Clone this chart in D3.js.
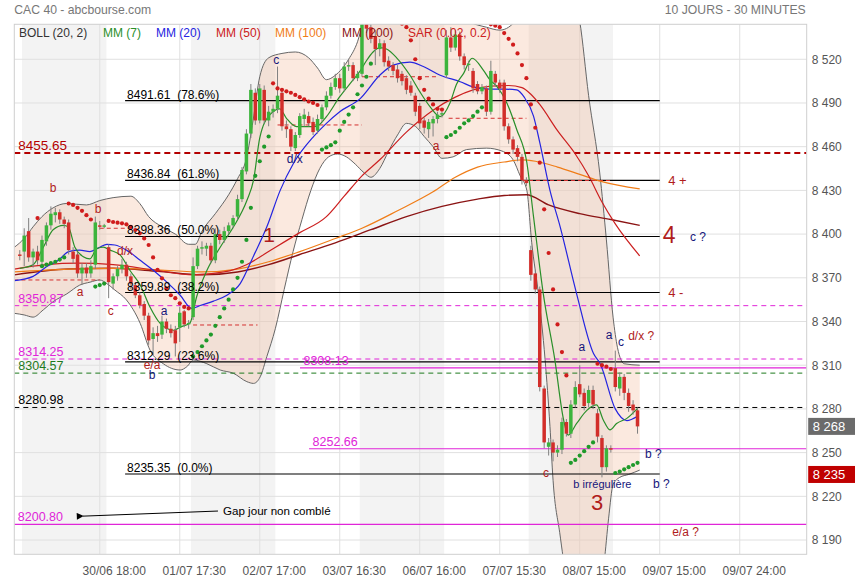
<!DOCTYPE html>
<html>
<head>
<meta charset="utf-8">
<script src="https://d3js.org/d3.v7.min.js"></script>
<style>
body { margin: 0; background: #fff; }
svg { display: block; font-family: "Liberation Sans", Arial, sans-serif; }
</style>
</head>
<body>
<script>
// ---- data (bar index 0 = 30/06 first 30-min bar, -1 = previous session last bar) ----
var firstBar = -1;
var opens = [8386,8388,8402,8384,8388,8381,8395,8406,8413,8415,8410,8408,8388,8386,8373,8377,8373,8379,8406,8405,
  8391,8366,8371,8376,8379,8371,8365,8358,8352,8344,8328,8332,8331,8340,8335,8334,8336,8347,8338,
  8343,8378,8390,8390,8392,8382,8400,8396,8402,8406,8412,8424,8443,8469,8497,8478,8499,8478,8484,
  8486,8497,8474,8472,8459,8468,8479,8481,8477,8471,8479,8487,8495,8501,8507,8500,8515,8516,8507,
  8510,8547,8542,8536,8527,8531,8519,8516,8513,8510,8507,8502,8495,8488,8478,8472,8476,8479,8482,
  8509,8535,8528,8537,8522,8516,8512,8503,8498,8500,8484,8510,8504,8504,8474,8465,8459,8453,8437,
  8389,8373,8362,8294,8254,8257,8250,8252,8271,8263,8283,8297,8291,8284,8293,8277,8260,8240,8253,
  8308,8294,8302,8291,8283,8279];
var highs = [8389,8404,8411,8390,8392,8399,8408,8419,8418,8417,8412,8410,8391,8388,8380,8380,8382,8412,8409,8407,
  8393,8373,8378,8383,8381,8373,8367,8360,8354,8346,8336,8337,8344,8342,8338,8337,8350,8348,8341,
  8384,8392,8395,8394,8394,8404,8403,8405,8408,8413,8427,8446,8472,8503,8500,8503,8502,8488,8489,
  8515,8499,8478,8474,8470,8483,8486,8484,8480,8482,8489,8498,8504,8510,8510,8518,8520,8518,8512,
  8552,8551,8545,8540,8534,8533,8522,8518,8516,8512,8509,8505,8497,8490,8480,8479,8481,8484,8484,
  8540,8542,8540,8539,8524,8519,8514,8505,8503,8502,8519,8512,8506,8506,8476,8467,8461,8455,8439,
  8392,8375,8364,8296,8260,8259,8255,8274,8273,8286,8299,8310,8294,8296,8296,8280,8262,8255,8255,
  8320,8305,8304,8294,8286,8281];
var lows = [8382,8378,8381,8377,8379,8378,8392,8403,8408,8407,8404,8386,8380,8370,8365,8370,8370,8376,8403,8404,
  8356,8362,8368,8373,8368,8362,8356,8349,8341,8324,8317,8326,8328,8332,8329,8316,8326,8336,8335,
  8341,8376,8386,8385,8380,8380,8393,8394,8400,8404,8410,8422,8441,8466,8475,8476,8476,8474,8480,
  8483,8471,8466,8457,8457,8466,8474,8474,8468,8469,8477,8485,8493,8499,8497,8498,8512,8505,8505,
  8508,8538,8531,8516,8522,8515,8512,8509,8504,8502,8496,8495,8481,8472,8469,8466,8467,8476,8480,
  8507,8525,8526,8519,8513,8512,8497,8496,8496,8481,8482,8501,8497,8471,8462,8455,8450,8434,8433,
  8368,8359,8292,8253,8248,8244,8247,8249,8261,8260,8281,8288,8279,8281,8280,8257,8233,8237,8250,
  8292,8289,8286,8278,8276,8263];
var closes = [8385,8399,8384,8388,8382,8396,8406,8414,8415,8410,8407,8389,8383,8373,8377,8373,8378,8408,8405,8406,
  8367,8371,8376,8379,8371,8366,8358,8351,8344,8327,8332,8330,8340,8335,8332,8325,8346,8338,8339,
  8378,8390,8391,8392,8382,8400,8396,8402,8406,8411,8424,8444,8469,8499,8478,8500,8478,8484,8486,
  8495,8474,8472,8460,8468,8481,8482,8476,8470,8479,8487,8495,8501,8507,8500,8515,8516,8507,8510,
  8548,8541,8534,8527,8531,8518,8515,8512,8507,8505,8499,8497,8484,8476,8473,8477,8479,8482,8483,
  8535,8528,8537,8522,8516,8517,8500,8498,8501,8484,8512,8504,8500,8474,8465,8458,8453,8437,8435,
  8372,8362,8295,8257,8257,8250,8252,8271,8263,8283,8295,8290,8282,8293,8283,8261,8240,8253,8252,
  8295,8302,8291,8282,8279,8268];

// indicators: [bar index, value]
var bollUpper = [[-2.2,8391],[0,8397],[2,8405],[4,8412],[6.5,8418],[9.5,8421],[14,8420],[17,8423],[20,8425],[24,8426],
  [26,8421],[28,8412],[31,8405],[34,8400],[37,8393],[38.5,8393],[40,8402],[43,8414],[46,8427],[48,8438],[50,8452],
  [51.5,8478],[53,8508],[55,8521],[58,8524],[61,8525],[64,8521],[66,8514],[68,8506],[70,8509],[73,8520],[75,8532],
  [76.5,8548],[80,8566],[88,8570],[96,8556],[100,8546],[104,8542],[107,8540],[109,8542],[111,8548],[115,8568],
  [120,8574],[123.5,8565],[125,8546],[127,8495],[129.5,8442],[131,8396],[132.5,8343],[133.5,8322],[135,8311],[138.5,8310]];
var bollLower = [[-2.2,8345.6],[0,8344.5],[2,8343],[4.3,8348],[6.5,8353.6],[9.6,8359],[12.5,8365],[14.8,8367],[17,8368.5],
  [18.6,8366],[20.4,8361.6],[23,8354.8],[26.1,8338.7],[28.3,8320.4],[31.3,8311],[33.2,8307.8],[35.1,8306.7],[36.6,8309],
  [38.1,8313.6],[41.1,8311],[44.1,8306.7],[47.1,8304.4],[50.1,8298.7],[51.6,8297.5],[53.1,8302],[54.6,8316],[56.5,8335],
  [58.5,8362],[60.5,8388],[62.5,8410],[64.5,8430],[66.5,8445],[68.5,8453],[70.5,8455],[72.5,8453],[74.5,8448],
  [76.5,8442],[78,8439],[80,8445],[82,8457],[84,8468],[86,8476],[88,8474],[90,8467],[92,8460],[94,8452],[96.5,8453],
  [99.5,8458],[104,8459],[107.5,8457],[110,8451],[111.6,8440],[113.1,8430],[114.2,8394],[115.7,8359],[117.2,8314],
  [118.3,8268],[119,8231],[120.5,8195],[122,8165],[126,8140],[129,8150],[130.5,8175],[131.5,8205],[132.5,8228],
  [134,8233],[136,8235],[138.5,8238]];
var mm7 = [[-1,8376.5],[2,8379],[4.3,8391],[6.5,8403],[8.8,8406],[9.9,8405],[11.4,8391],[13.3,8384.5],[14.8,8383],
  [16.3,8390],[17.8,8391],[19.3,8389],[21.6,8385.6],[23.8,8375],[26.1,8365],[28.3,8350],[30.6,8338.7],[33.6,8334],
  [35.4,8336.5],[37.3,8339],[38.8,8357],[41.1,8375],[44.1,8391],[47.1,8405],[50.1,8423],[51.6,8437],[53,8466],
  [55.3,8482],[57.5,8486],[59,8479.5],[61.3,8473.7],[63.6,8473.7],[65.8,8474],[68,8480.6],[71,8494.3],[74,8505.8],
  [75.6,8512],[77,8519],[78.5,8525],[80,8528],[81.5,8527],[83.8,8521],[86.8,8509],[89,8497.8],[91.3,8487.5],
  [93.6,8480.6],[95.8,8490],[97.3,8503],[98.8,8510],[100.8,8520.7],[103.3,8512.6],[104.8,8505.8],[106.3,8501.5],
  [108.6,8490],[110.8,8472],[113.1,8449],[114.6,8412],[116.8,8359],[119.4,8313.6],[121.3,8273.5],[122.4,8262],
  [124.3,8270],[126.6,8279],[128.8,8282.7],[130.3,8272.4],[131.8,8265.6],[133.3,8270],[135.6,8273.5],[138,8280.4]];
var mm20 = [[-2.2,8368],[2,8371],[5,8377.6],[7.7,8382],[10,8388],[12.5,8389],[14.8,8388],[17,8391],[18.6,8393],
  [20.4,8392.5],[23,8389],[26.1,8382],[29.1,8375],[32.1,8367],[35.1,8358],[37.7,8349],[39.6,8351],[42.6,8354],
  [45.6,8358],[48.6,8366],[51.6,8385],[54.6,8405],[57.6,8430],[60.6,8448.6],[65.1,8466.9],[68,8476],[71,8484],
  [75.6,8493],[80,8509],[83,8516],[86.8,8518],[89.8,8515],[93.6,8509],[98.1,8504.6],[101,8501],[104.8,8499.5],
  [108,8499.5],[110.8,8499],[112.5,8494],[114.6,8481],[116,8463],[118.3,8430],[120.6,8405],[124.3,8359],
  [128.1,8318],[129.6,8311],[133,8280],[135.6,8272],[138,8275]];
var mm50 = [[-2.2,8376],[5,8379],[12,8380],[20,8379],[30,8375],[38,8372],[45,8374],[50,8379],[56,8390],[62,8401],
  [68,8412],[72,8426],[76,8440],[80,8451],[86,8470],[92,8485],[97,8494],[101,8499],[105,8501.5],[109,8502],
  [112,8500.5],[114,8496],[116,8489],[120,8471],[124,8455],[127,8440],[130,8422],[133,8407],[138.5,8385]];
var mm100 = [[-2.2,8374],[10,8376],[20,8376.5],[30,8375.5],[40,8374],[48,8376],[55,8381],[62,8388],[70,8397],
  [76,8404],[84,8416],[92,8429],[97,8439],[102,8446],[108,8449.5],[112,8451],[115,8450],[120,8446],[125,8441],
  [130,8436],[138.5,8431]];
var mm200 = [[-2.2,8372],[10,8376],[20,8376.5],[30,8374.5],[40,8372],[48,8374],[55,8379],[62,8386],[70,8394],
  [78,8403],[86,8412],[94,8419],[102,8424],[108,8426.5],[113,8427],[118,8420],[125,8414],[132,8410],[138.5,8406]];
var sarRed = [[3,8411],[10,8421],[11,8420],[12,8418],[13,8416],[14,8413],[15,8410],
  [19,8409],[20,8408.3],[21,8407.8],[22,8407.4],[23,8406.7],[24,8405],[25,8402.8],[26,8400.5],[27,8397],[28,8392.5],
  [29,8384],[30,8375.4],[31,8369.6],[32,8362.8],[33,8358],[34,8356],[35,8352.5],[36,8350],[37,8349],
  [56,8503.5],[57,8500],[58,8499],[59,8498],[60,8497],[61,8495.5],[62,8494],[63,8492.5],[64,8491],[65,8490],[66,8488.6],
  [79,8552],[80,8551],[81,8550],[82,8549],[83,8548],[84,8546],[85,8544.5],[86,8542],[87,8533],[88,8520],[89,8507],
  [90,8499],[91,8493],[92,8489],[93,8486],[94,8485.5],
  [104,8545.5],[105,8544],[106,8543],[107,8542],[108,8538],[109,8534],[110,8530],[111,8524],[112,8516],[113,8507],
  [114,8489],[115,8473],[116,8449],[117,8417],[118,8387],[119,8362],[120,8338],[121,8319],[122,8303],
  [129,8311],[130,8310],[131,8309],[132,8307.4]];
var sarGreen = [[4,8378],[5,8379],[6,8380],[7,8381],[8,8382.5],[9,8384],[16,8364],[17,8365],[18,8366],
  [38,8316],[39,8319],[40,8323],[41,8327],[42,8331],[43,8337],[44,8343],[45,8349],[46,8355],[47,8362],[48,8370],
  [49,8381],[50,8396],[51,8418],[52,8440],[53,8450],[54,8460],[55,8467],
  [67,8458],[68,8459.5],[69,8461],[70,8463],[71,8471],[72,8477],[73,8482],[74,8487],[75,8496],[76,8502],[77,8508],[78,8517],
  [95,8466.5],[96,8468],[97,8470],[98,8473],[99,8476],[100,8478],[101,8481],[102,8484],[103,8487],
  [123,8243],[124,8245],[125,8248],[126,8251],[127,8254],[128,8257],
  [133,8236],[134,8237],[135,8238.5],[136,8240],[137,8241.5],[138,8243]];
// short red dashed lines: [from bar, to bar, value]
var redDashes = [[-2.2,17,8368.5],[17,24,8404],[38,52.5,8337.6],[57,76,8474.9],[76,93,8508],[95.5,113,8479.5],[112,132,8436.8]];

var fibValues = [8491.61, 8436.84, 8398.36, 8359.89, 8312.29, 8235.35];
var fibPct = ["78.6%", "61.8%", "50.0%", "38.2%", "23.6%", "0.0%"];
var fibFrom = 22.7, fibTo = 143;
var dashedLevels = [8455.65, 8350.87, 8314.25, 8304.57, 8280.98];
var dashedKinds = ["gap", "magenta", "magenta", "green", "black"];
var solidLevels = [8308.13, 8252.66, 8200.80];
var solidFrom = [62.05, 64.1, -2.23];

var shadedDays = [0, 38, 76, 114];
var barsPerDay = 19;
var yTicks = [8190, 8220, 8250, 8280, 8310, 8340, 8370, 8400, 8430, 8460, 8490, 8520];
var xTickIdx = [17, 35, 53, 71, 89, 107, 125, 143, 161];
var xTickLabels = ["30/06 18:00", "01/07 17:30", "02/07 17:00", "03/07 16:30", "06/07 16:00",
  "07/07 15:30", "08/07 15:00", "09/07 15:00", "09/07 24:00"];
var lastPrice = 8268, sarPrice = 8235;

var legendNames = ["BOLL (20, 2)", "MM (7)", "MM (20)", "MM (50)", "MM (100)", "MM (200)", "SAR (0.02, 0.2)"];

// wave labels: [bar, value, text, colour, size, anchor]
var waveLabels = [
  [6.5,8429,"b","r",12,"middle"],[16.6,8414.5,"b","r",12,"middle"],[22.7,8385.6,"d/x","r",12,"middle"],
  [12.55,8357.5,"a","r",12,"middle"],[19.5,8344.5,"c","r",12,"middle"],[31.45,8344.5,"a","n",12,"middle"],
  [28.75,8307.5,"e/a","r",12,"middle"],[28.75,8300.5,"b","n",12,"middle"],[56.7,8516.7,"c","n",12,"middle"],
  [60.9,8448.5,"d/x","n",12,"middle"],[55.1,8394.6,"1","r",21,"middle"],[92.7,8457.7,"a","r",12,"middle"],
  [117.4,8233,"c","r",12,"middle"],[125.5,8319.5,"a","n",12,"middle"],[131.6,8328,"a","n",12,"middle"],
  [134.3,8323,"c","n",12,"middle"],[135.9,8327.3,"d/x ?","r",12,"start"],[130.1,8226,"b irrégulière","n",11,"middle"],
  [128.9,8210.5,"3","r",22,"middle"],[139.7,8246,"b ?","n",12,"start"],[141.5,8226,"b ?","n",12,"start"],
  [145.8,8192.7,"e/a ?","r",12,"start"],[144.9,8433.7,"4 +","r",13,"start"],[143.7,8394,"4","r",23,"start"],
  [149.8,8395,"c ?","n",12,"start"],[144.9,8357,"4 -","r",13,"start"]];
var gapNote = "Gap jour non comblé";
var gapArrow = [[43.6, 8209.9], [11.9, 8206.4]];

// ---- layout ----
var w = 855, h = 580;
var plot = { left: 14.3, right: 806.7, top: 24.3, bottom: 554.3 };

var x = d3.scaleLinear().domain([-2.23, 176.07]).range([plot.left, plot.right]);
var y = d3.scaleLinear().domain([8180.2, 8544.0]).range([plot.bottom, plot.top]);
var barW = 3.5;

var colors = {
  r: "#b01c1c", n: "#15157a",
  up: "#3cb43c", down: "#d22e2a",
  mm7: "#2a8f2a", mm20: "#2424e0", mm50: "#cc2020", mm100: "#f07d18", mm200: "#8b1414",
  magenta: "#e025d8", gap: "#b40000", green: "#1d7a1d", black: "#000"
};

var svg = d3.select("body").append("svg")
    .attr("width", w)
    .attr("height", h);

svg.append("defs").append("clipPath").attr("id", "clip")
  .append("rect")
  .attr("x", plot.left).attr("y", plot.top)
  .attr("width", plot.right - plot.left).attr("height", plot.bottom - plot.top);

svg.append("defs").append("marker")
  .attr("id", "arrow").attr("viewBox", "0 0 10 10")
  .attr("refX", 1).attr("refY", 5)
  .attr("markerWidth", 9).attr("markerHeight", 7)
  .attr("orient", "auto-start-reverse")
  .append("path").attr("d", "M10,0 L0,5 L10,10 z").attr("fill", "#000");

var chart = svg.append("g").attr("clip-path", "url(#clip)");

// day bands
chart.selectAll(".day")
  .data(shadedDays)
  .enter().append("rect")
  .attr("x", function(d) { return x(d - 0.5); })
  .attr("width", function(d) { return x(d + barsPerDay - 0.5) - x(d - 0.5); })
  .attr("y", plot.top)
  .attr("height", plot.bottom - plot.top)
  .attr("fill", "#f3f3f3");

// grid
chart.selectAll(".hgrid")
  .data(yTicks)
  .enter().append("line")
  .attr("x1", plot.left).attr("x2", plot.right)
  .attr("y1", function(d) { return y(d); })
  .attr("y2", function(d) { return y(d); })
  .attr("stroke", "#e0e0e0");

chart.selectAll(".vgrid")
  .data(xTickIdx)
  .enter().append("line")
  .attr("x1", function(d) { return x(d); })
  .attr("x2", function(d) { return x(d); })
  .attr("y1", plot.top).attr("y2", plot.bottom)
  .attr("stroke", "#e0e0e0");

// bollinger
var curve = d3.curveMonotoneX;
var upLine = d3.line().x(function(d) { return x(d[0]); }).y(function(d) { return y(d[1]); }).curve(curve);

// fill with a closed path: upper forward, lower backward
var upperPath = upLine(bollUpper);
var lowerPath = upLine(bollLower.slice().reverse());
chart.append("path")
  .attr("d", upperPath + "L" + lowerPath.slice(1) + "Z")
  .attr("fill", "#f2b594")
  .attr("fill-opacity", 0.3);

[bollUpper, bollLower].forEach(function(s) {
  chart.append("path")
    .attr("d", upLine(s))
    .attr("fill", "none")
    .attr("stroke", "#666")
    .attr("stroke-width", 1);
});

// horizontal levels
chart.selectAll(".dlev")
  .data(dashedLevels)
  .enter().append("line")
  .attr("x1", plot.left).attr("x2", plot.right)
  .attr("y1", function(d) { return y(d); })
  .attr("y2", function(d) { return y(d); })
  .attr("stroke", function(d, i) { return colors[dashedKinds[i]]; })
  .attr("stroke-width", function(d, i) { return dashedKinds[i] == "gap" ? 2.2 : 1; })
  .attr("stroke-dasharray", function(d, i) { return dashedKinds[i] == "gap" ? "6,4" : "5,4"; });

chart.selectAll(".slev")
  .data(solidLevels)
  .enter().append("line")
  .attr("x1", function(d, i) { return x(solidFrom[i]); })
  .attr("x2", plot.right)
  .attr("y1", function(d) { return y(d); })
  .attr("y2", function(d) { return y(d); })
  .attr("stroke", colors.magenta)
  .attr("stroke-width", 1.2);

chart.selectAll(".fib")
  .data(fibValues)
  .enter().append("line")
  .attr("x1", x(fibFrom)).attr("x2", x(fibTo))
  .attr("y1", function(d) { return y(d); })
  .attr("y2", function(d) { return y(d); })
  .attr("stroke", "#000")
  .attr("stroke-width", 1.1);

chart.selectAll(".rdash")
  .data(redDashes)
  .enter().append("line")
  .attr("x1", function(d) { return x(d[0]); })
  .attr("x2", function(d) { return x(d[1]); })
  .attr("y1", function(d) { return y(d[2]); })
  .attr("y2", function(d) { return y(d[2]); })
  .attr("stroke", "#d43030")
  .attr("stroke-dasharray", "4,3");

// moving averages
[[mm200, colors.mm200, 1.4], [mm100, colors.mm100, 1.2], [mm50, colors.mm50, 1.2],
 [mm20, colors.mm20, 1.2], [mm7, colors.mm7, 1.2]].forEach(function(s) {
  chart.append("path")
    .attr("d", upLine(s[0]))
    .attr("fill", "none")
    .attr("stroke", s[1])
    .attr("stroke-width", s[2]);
});

// candles
var bars = closes.map(function(c, k) {
  return { i: firstBar + k, o: opens[k], h: highs[k], l: lows[k], c: c };
});

var candle = chart.selectAll(".candle")
  .data(bars)
  .enter().append("g")
  .attr("class", "candle");

candle.append("line")
  .attr("x1", function(d) { return x(d.i); })
  .attr("x2", function(d) { return x(d.i); })
  .attr("y1", function(d) { return y(d.h); })
  .attr("y2", function(d) { return y(d.l); })
  .attr("stroke", "#808080");

candle.append("rect")
  .attr("x", function(d) { return x(d.i) - barW / 2; })
  .attr("width", barW)
  .attr("y", function(d) { return y(Math.max(d.o, d.c)); })
  .attr("height", function(d) { return Math.max(1, Math.abs(y(d.o) - y(d.c))); })
  .attr("fill", function(d) { return d.c >= d.o ? colors.up : colors.down; });

// SAR
chart.selectAll(".sarR")
  .data(sarRed)
  .enter().append("circle")
  .attr("cx", function(d) { return x(d[0]); })
  .attr("cy", function(d) { return y(d[1]); })
  .attr("r", 2.1)
  .attr("fill", "#d01c1c");

chart.selectAll(".sarG")
  .data(sarGreen)
  .enter().append("circle")
  .attr("cx", function(d) { return x(d[0]); })
  .attr("cy", function(d) { return y(d[1]); })
  .attr("r", 2.1)
  .attr("fill", "#1f9a2a");

// level labels
var labels = svg.append("g").attr("font-size", 12);

labels.selectAll(".fibt")
  .data(fibValues)
  .enter().append("text")
  .attr("x", x(fibFrom) + 2)
  .attr("y", function(d) { return y(d) - 2; })
  .style("white-space", "pre")
  .attr("fill", "#000")
  .text(function(d, i) { return d.toFixed(2) + "  (" + fibPct[i] + ")"; });

labels.selectAll(".dlt")
  .data(dashedLevels)
  .enter().append("text")
  .attr("x", plot.left + 4)
  .attr("y", function(d) { return y(d) - 3; })
  .attr("font-size", function(d, i) { return dashedKinds[i] == "gap" ? 13.5 : 12.5; })
  .attr("fill", function(d, i) { return colors[dashedKinds[i]]; })
  .text(function(d) { return d.toFixed(2); });

labels.selectAll(".slt")
  .data(solidLevels)
  .enter().append("text")
  .attr("x", function(d, i) { return x(solidFrom[i]) + 3.5; })
  .attr("y", function(d) { return y(d) - 3; })
  .attr("font-size", 12.5)
  .attr("fill", colors.magenta)
  .text(function(d) { return d.toFixed(2); });

// wave labels
svg.append("g").selectAll(".wave")
  .data(waveLabels)
  .enter().append("text")
  .attr("x", function(d) { return x(d[0]); })
  .attr("y", function(d) { return y(d[1]); })
  .attr("text-anchor", function(d) { return d[5]; })
  .attr("font-size", function(d) { return d[4]; })
  .attr("fill", function(d) { return colors[d[3]]; })
  .text(function(d) { return d[2]; });

// gap note
svg.append("line")
  .attr("x1", x(gapArrow[0][0])).attr("y1", y(gapArrow[0][1]))
  .attr("x2", x(gapArrow[1][0]) + 6).attr("y2", y(gapArrow[1][1]))
  .attr("stroke", "#000")
  .attr("marker-end", "url(#arrow)");

svg.append("text")
  .attr("x", x(gapArrow[0][0]) + 5)
  .attr("y", y(gapArrow[0][1]) + 4)
  .attr("font-size", 11.6)
  .attr("fill", "#000")
  .text(gapNote);

// frame
svg.append("rect")
  .attr("x", plot.left).attr("y", plot.top)
  .attr("width", plot.right - plot.left).attr("height", plot.bottom - plot.top)
  .attr("fill", "none")
  .attr("stroke", "#cfcfcf");

// axes
var fmt = function(d) { return String(Math.round(d)).replace(/(\d)(\d{3})$/, "$1 $2"); };

var yAxis = svg.append("g")
  .attr("transform", "translate(" + plot.right + ",0)")
  .call(d3.axisRight(y).tickValues(yTicks).tickSize(0).tickPadding(5).tickFormat(fmt));
yAxis.select(".domain").remove();
yAxis.selectAll("text").attr("font-size", 12).attr("fill", "#555")
  .attr("font-family", "Liberation Sans, Arial, sans-serif");

var xAxis = svg.append("g")
  .attr("transform", "translate(0," + plot.bottom + ")")
  .call(d3.axisBottom(x).tickValues(xTickIdx).tickSize(0).tickPadding(12)
    .tickFormat(function(d, i) { return xTickLabels[i]; }));
xAxis.select(".domain").remove();
xAxis.selectAll("text").attr("font-size", 12).attr("fill", "#555").attr("dx", 14)
  .attr("font-family", "Liberation Sans, Arial, sans-serif");

// price tags
[[lastPrice, "#6b6b6b"], [sarPrice, "#c00000"]].forEach(function(p) {
  svg.append("rect")
    .attr("x", plot.right + 1.5).attr("y", y(p[0]) - 8.5)
    .attr("width", w - plot.right).attr("height", 17)
    .attr("fill", p[1]);
  svg.append("text")
    .attr("x", plot.right + 6).attr("y", y(p[0]) + 5)
    .attr("font-size", 13)
    .attr("fill", "#fff")
    .text(fmt(p[0]));
});

// titles
svg.append("text").attr("x", plot.left).attr("y", 14)
  .attr("font-size", 12.2).attr("fill", "#777").text("CAC 40 - abcbourse.com");
svg.append("text").attr("x", plot.right - 1).attr("y", 14)
  .attr("text-anchor", "end").attr("font-size", 12.2).attr("fill", "#777").text("10 JOURS - 30 MINUTES");

// legend
var legendX = [19, 103, 156, 216, 275, 342, 408];
var legendCol = ["#333", colors.mm7, colors.mm20, colors.mm50, colors.mm100, colors.mm200, colors.mm50];
svg.append("g").selectAll(".leg")
  .data(legendNames)
  .enter().append("text")
  .attr("x", function(d, i) { return legendX[i]; })
  .attr("y", 37)
  .attr("font-size", 12)
  .attr("fill", function(d, i) { return legendCol[i]; })
  .text(function(d) { return d; });
</script>
</body>
</html>
